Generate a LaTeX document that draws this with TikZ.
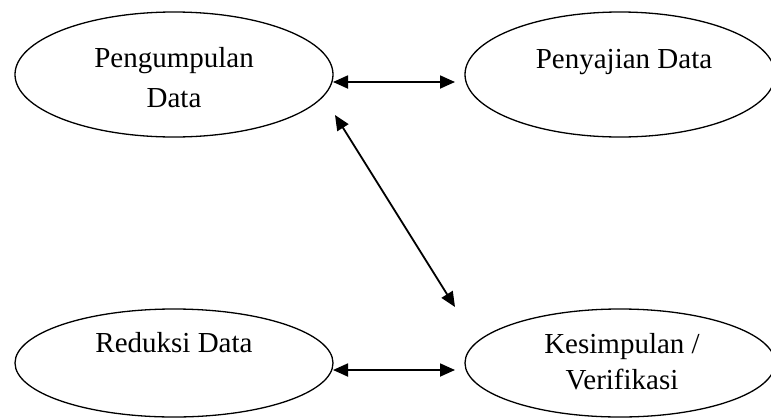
\documentclass[tikz,border=0pt]{standalone}
\usepackage{fontspec}
\setmainfont{Liberation Serif}
\usetikzlibrary{arrows.meta,shapes.geometric}
\tikzset{
  bubble/.style={ellipse, draw, line width=1.3pt, inner sep=0pt},
  lbl/.style={anchor=base, inner sep=0pt, font=\fontsize{29}{40}\selectfont},
  link/.style={line width=1.8pt, {Triangle[length=15pt,width=13pt]}-{Triangle[length=15pt,width=13pt]}}
}
\begin{document}
\begin{tikzpicture}[x=1pt,y=-1pt]
\useasboundingbox (0,0) rectangle (771,418);
\node[bubble, minimum width=318pt, minimum height=125pt] (pd) at (174,74.5) {};
\node[bubble, minimum width=310pt, minimum height=125pt] (sd) at (620,74.5) {};
\node[bubble, minimum width=318pt, minimum height=108pt] (rd) at (174,363) {};
\node[bubble, minimum width=310pt, minimum height=108pt] (kv) at (620,363) {};
\node[lbl] (t1) at (174,67) {Pengumpulan};
\node[lbl] (t2) at (174,107) {Data};
\node[lbl] (t3) at (624,68) {Penyajian Data};
\node[lbl] (t4) at (174,352) {Reduksi Data};
\node[lbl] (t5) at (622,353) {Kesimpulan /};
\node[lbl] (t6) at (622,389) {Verifikasi};
\coordinate (a1) at (333,82);
\coordinate (a2) at (455,82);
\coordinate (b1) at (335,115);
\coordinate (b2) at (455,307);
\coordinate (c1) at (333,370);
\coordinate (c2) at (455,370);
\draw[link] (a1) -- (a2);
\draw[link] (b1) -- (b2);
\draw[link] (c1) -- (c2);
\end{tikzpicture}
\end{document}
